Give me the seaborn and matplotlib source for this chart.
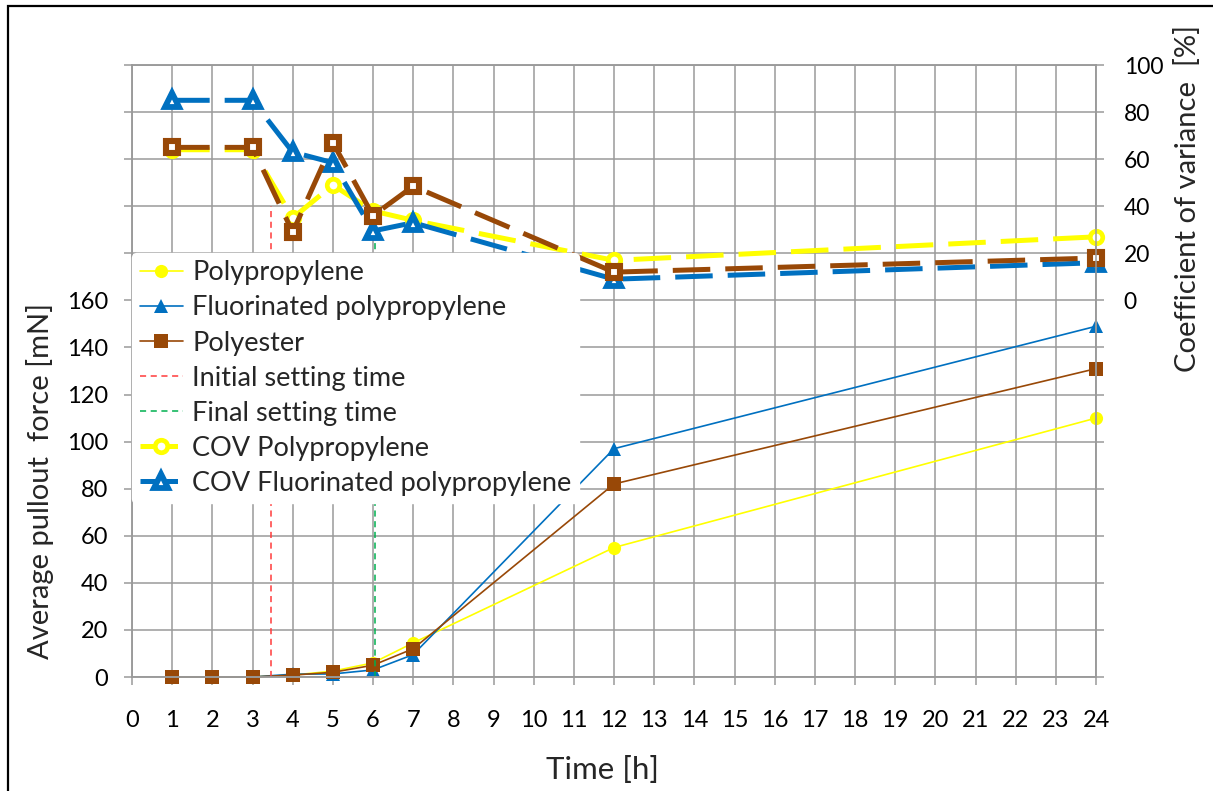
import numpy as np
import pandas as pd
import matplotlib
matplotlib.use("Agg")
import matplotlib.pyplot as plt
from matplotlib.patches import Rectangle
from matplotlib.ticker import FuncFormatter
import seaborn as sns

sns.set_style("white")
plt.rcParams['font.family'] = ['Lato', 'DejaVu Sans']

# pullout force [mN]
hours = [1, 2, 3, 4, 5, 6, 7, 12, 24]
force_pp = [0, 0, 0, 0.8, 2.5, 6, 14.5, 55, 110]
force_fpp = [0, 0, 0, 1.2, 1.3, 3, 9.5, 97, 149]
force_pe = [0, 0, 0, 0.8, 2, 5, 12, 82, 131]

# setting times [h]
initial_x = [3.45, 3.45]
initial_y = [0, 200]
final_x = [6.05, 6.05]
final_y = [0, 200]

# coefficient of variance [%]
cov_hours = [1, 3, 4, 5, 6, 7, 12, 24]
cov_pp = [64, 64, 35, 49, 38, 34, 17, 27]
cov_fpp = [85, 85, 63, 58.5, 29.5, 33, 9, 16]
cov_pe = [65, 65, 29, 67, 36, 48.5, 12, 18]

YELLOW = '#FFFF00'
BLUE = '#0070C0'
BROWN = '#984807'
GRID = '#9A9A9A'

fig = plt.figure(figsize=(12.13, 7.91), dpi=100)
ax = fig.add_axes([132 / 1213, 1 - 677 / 791, (1096 - 132) / 1213, (677 - 65) / 791])
ax2 = ax.twinx()

common = dict(estimator=None, errorbar=None, sort=False, clip_on=False)

# primary axis: force
sns.lineplot(x=hours, y=force_pp, ax=ax, color=YELLOW, lw=1.2, marker='o', ms=9.5,
             mec=YELLOW, mew=0, label='Polypropylene', **common)
sns.lineplot(x=hours, y=force_fpp, ax=ax, color=BLUE, lw=1.2, marker='^', ms=10,
             mec=BLUE, mew=0, label='Fluorinated polypropylene', **common)
sns.lineplot(x=hours, y=force_pe, ax=ax, color=BROWN, lw=1.2, marker='s', ms=10,
             mec=BROWN, mew=0, label='Polyester', **common)
sns.lineplot(x=initial_x, y=initial_y, ax=ax, color='#FF3B3B', lw=1.1,
             linestyle=(0, (4, 3)), label='Initial setting time', **common)
sns.lineplot(x=final_x, y=final_y, ax=ax, color='#00B050', lw=1.1,
             linestyle=(0, (4, 3)), label='Final setting time', **common)

# secondary axis: COV
cov_kw = dict(lw=3.6, linestyle=(0, (7.5, 3)), dash_capstyle='butt', mfc='white')
sns.lineplot(x=cov_hours, y=cov_pp, ax=ax2, color=YELLOW, marker='o', ms=9, mew=3.4,
             mec=YELLOW, label='COV Polypropylene', **cov_kw, **common)
sns.lineplot(x=cov_hours, y=cov_fpp, ax=ax2, color=BLUE, marker='^', ms=9.5, mew=4.2,
             mec=BLUE, label='COV Fluorinated polypropylene', **cov_kw, **common)
sns.lineplot(x=cov_hours, y=cov_pe, ax=ax2, color=BROWN, marker='s', ms=8, mew=4.4,
             mec=BROWN, label='COV Polyester', **cov_kw, **common)

ax.set_xlim(0, 24)
ax.set_xticks(range(0, 25))
ax.set_ylim(0, 260)
ax.set_yticks(range(0, 261, 20))
ax2.set_ylim(-160, 100)
ax2.set_yticks(range(-160, 101, 20))

ax.yaxis.set_major_formatter(FuncFormatter(lambda v, p: f'{v:.0f}' if 0 <= v <= 160 else ''))
ax2.yaxis.set_major_formatter(FuncFormatter(lambda v, p: f'{v:.0f}' if 0 <= v <= 100 else ''))

ax.grid(True, color=GRID, lw=1.1)
ax2.grid(False)
ax.set_axisbelow(True)
for a in (ax, ax2):
    for s in a.spines.values():
        s.set_color(GRID)
        s.set_linewidth(1.1)
    a.tick_params(colors=GRID, labelcolor='black', length=6, width=1.1,
                  labelsize=17, direction='out')
ax.tick_params(axis='y', left=True, pad=11)
ax.tick_params(axis='x', bottom=True, pad=18)
ax2.tick_params(axis='y', right=True, pad=14, labelsize=16.5)
ax.set_xlabel('')
ax.set_ylabel('')
ax2.set_ylabel('')

# legend (last COV entry is cut off in the original)
h1, l1 = ax.get_legend_handles_labels()
h2, l2 = ax2.get_legend_handles_labels()
if ax.get_legend():
    ax.get_legend().remove()
leg = ax2.legend(h1 + h2[:2], l1 + l2[:2], loc='upper left', bbox_to_anchor=(0, 0.693),
                 borderaxespad=0, frameon=True, fontsize=19.5, handlelength=1.6,
                 handletextpad=0.35, labelspacing=0.37, borderpad=0.28)
leg.get_frame().set_facecolor('white')
leg.get_frame().set_edgecolor('white')
leg.get_frame().set_alpha(1)
leg.set_zorder(10)

fig.text(40 / 1213, 1 - 481 / 791, 'Average pullout  force [mN]', rotation=90,
         ha='center', va='center', fontsize=21)
fig.text(1187 / 1213, 1 - 198 / 791, 'Coefficient of variance  [%]', rotation=90,
         ha='center', va='center', fontsize=21)
fig.text(603 / 1213, 1 - 770 / 791, 'Time [h]', ha='center', va='center', fontsize=22.5)

fig.add_artist(Rectangle((8 / 1213, -0.05), 1.2, 1 - 6 / 791 + 0.05, transform=fig.transFigure,
                         fill=False, edgecolor='black', lw=1.6))

fig.savefig('out.png', dpi=100)
